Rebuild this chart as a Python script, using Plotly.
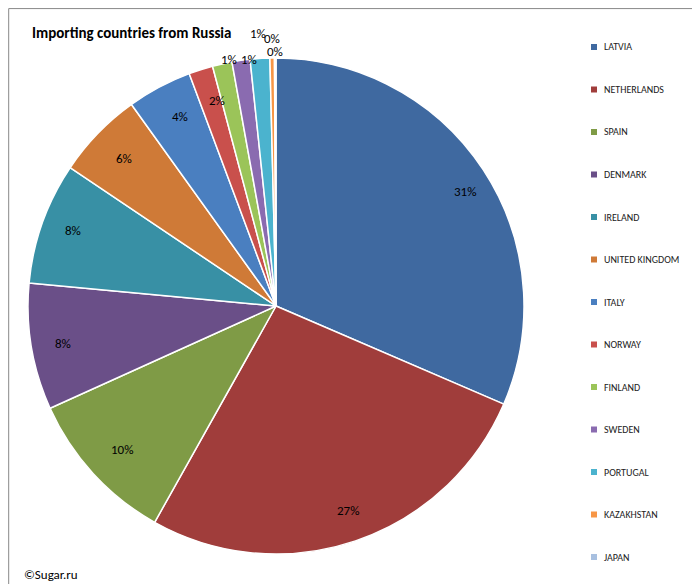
import math
import plotly.graph_objects as go

countries = ['LATVIA', 'NETHERLANDS', 'SPAIN', 'DENMARK', 'IRELAND', 'UNITED KINGDOM',
             'ITALY', 'NORWAY', 'FINLAND', 'SWEDEN', 'PORTUGAL', 'KAZAKHSTAN', 'JAPAN']
shares = [32.1, 27.2, 10.3, 8.4, 8.1, 5.8, 4.3, 1.6, 1.3, 1.2, 1.3, 0.3, 0.1]
colors = ['#3f69a0', '#a03d3b', '#7f9b46', '#6a4f88', '#3890a5', '#cf7a37', '#4a7fc0',
          '#c9504c', '#9bc459', '#8a6bb0', '#4bb3ce', '#f79646', '#a8c0e0']

W, H = 700, 584
cx, cy, R = 268, 298, 248   # pie centre / radius in pixels
label_r = [226] * 8 + [262, 259, 283, 277, 264]

fig = go.Figure(go.Pie(
    labels=countries, values=shares, sort=False, direction='clockwise', rotation=0,
    marker=dict(colors=colors, line=dict(color='white', width=1.5)),
    textinfo='none', showlegend=False, hoverinfo='label+percent',
    domain=dict(x=[(cx - R) / W, (cx + R) / W], y=[(H - cy - R) / H, (H - cy + R) / H]),
))

# percentage labels placed at each slice's mid-angle
total = sum(shares)
acc = 0
for v, r in zip(shares, label_r):
    mid = (acc + v / 2) / total * 2 * math.pi
    acc += v
    px_ = cx + r * math.sin(mid)
    py_ = cy - r * math.cos(mid)
    fig.add_annotation(x=px_ / W, y=1 - py_ / H, xref='paper', yref='paper',
                       text=f'{round(v / total * 100)}%', showarrow=False,
                       font=dict(size=13, color='black'))

# legend drawn manually to match spacing
for i, (name, col) in enumerate(zip(countries, colors)):
    y = 1 - (39 + i * 42.5) / H
    fig.add_shape(type='rect', xref='paper', yref='paper',
                  x0=583 / W, x1=589 / W, y0=y - 3 / H, y1=y + 3 / H,
                  fillcolor=col, line=dict(width=0))
    fig.add_annotation(x=594 / W, y=y, xref='paper', yref='paper', text=name,
                       showarrow=False, xanchor='left', yanchor='middle',
                       font=dict(size=10, color='#222'))

fig.add_annotation(x=22 / W, y=1 - 25 / H, xref='paper', yref='paper',
                   text='<b>Importing countries from Russia</b>', showarrow=False,
                   xanchor='left', yanchor='middle', font=dict(size=15, color='black'))
fig.add_annotation(x=14 / W, y=1 - 566 / H, xref='paper', yref='paper',
                   text='©Sugar.ru', showarrow=False, xanchor='left', yanchor='middle',
                   font=dict(size=13, color='black'))
fig.add_shape(type='rect', xref='paper', yref='paper', x0=0.001, x1=0.999, y0=0.001, y1=0.999,
              line=dict(color='#888', width=1))

fig.update_layout(width=W, height=H, margin=dict(l=0, r=0, t=0, b=0),
                  paper_bgcolor='white', font=dict(family='Calibri, Carlito, Liberation Sans, sans-serif'))
fig.write_html('out.html')
